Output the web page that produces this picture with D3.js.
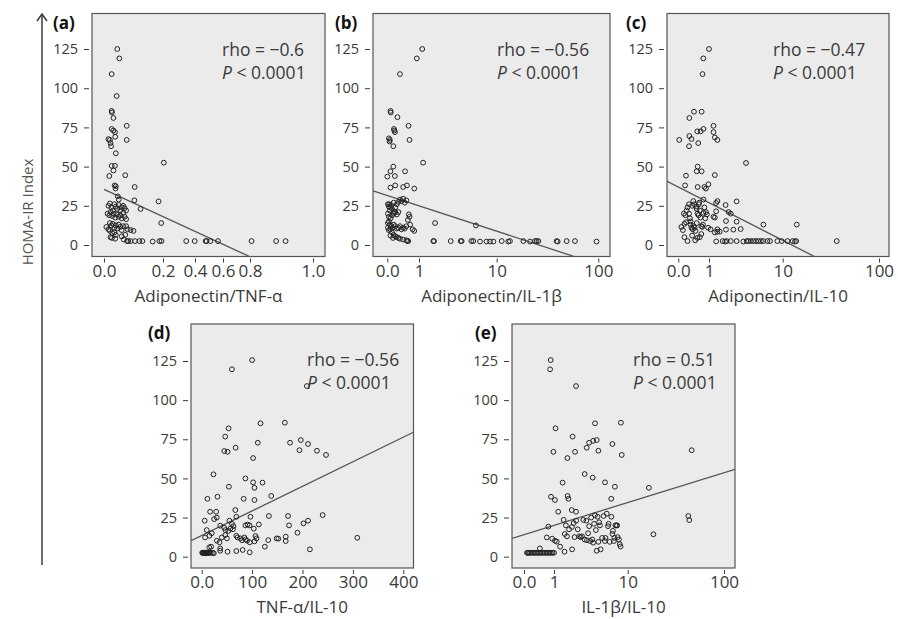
<!DOCTYPE html>
<html>
<head>
<meta charset="utf-8">
<script src="https://cdn.jsdelivr.net/npm/d3@7"></script>
<style>
  body { margin: 0; background: #fff; }
  svg { font-family: "Open Sans", "Noto Sans", sans-serif; }
</style>
</head>
<body>
<svg id="chart" width="898" height="619"></svg>
<script>
// y axis (HOMA-IR index) shared by every panel
const yTicks = [0, 25, 50, 75, 100, 125];

// x tick values for each panel
const ticksA = [0, 0.2, 0.4, 0.6, 0.8, 1.0];
const ticksLog = [0, 1, 10, 100];
const ticksD = [0, 100, 200, 300, 400];

const panelLetters = ["(a)", "(b)", "(c)", "(d)", "(e)"];
const xTitles = ["Adiponectin/TNF-α", "Adiponectin/IL-1β", "Adiponectin/IL-10", "TNF-α/IL-10", "IL-1β/IL-10"];
const rhoValues = ["−0.6", "−0.56", "−0.47", "−0.56", "0.51"];
const pValues = ["< 0.0001", "< 0.0001", "< 0.0001", "< 0.0001", "< 0.0001"];

// (a) adiponectin/TNF-a vs HOMA-IR
const dataA = [
  [0.045,125],[0.052,119],[0.026,109],[0.043,95],[0.026,85.5],[0.027,84.5],[0.032,81],[0.077,76],[0.026,74],[0.032,73],
  [0.037,72],[0.038,69],[0.015,67.5],[0.02,67],[0.022,65],[0.024,63],[0.077,67],[0.04,58.5],[0.026,50.5],[0.037,50.5],
  [0.032,47.5],[0.018,44],[0.072,44.5],[0.205,52.5],[0.036,38],[0.04,37.5],[0.039,36],[0.104,37],[0.047,31],[0.05,29],
  [0.103,28.5],[0.185,27.8],[0.124,23],[0.194,14],
  [0.015,25],[0.02,26.5],[0.025,24],[0.03,22],[0.035,26],[0.04,24.5],[0.045,23],[0.05,25.5],[0.055,22],[0.06,24],
  [0.065,25],[0.07,23.5],[0.075,22],[0.012,20],[0.018,19],[0.022,21],[0.028,18.5],[0.033,20],[0.038,17.5],[0.044,19.5],
  [0.05,18],[0.055,19],[0.06,17],[0.065,20.5],[0.07,18],[0.075,16.5],[0.02,14],[0.025,12.5],[0.03,13.5],[0.035,11],
  [0.04,12.5],[0.045,10.5],[0.05,13],[0.055,11.5],[0.06,9.5],[0.065,12],[0.075,12],[0.08,10],[0.09,9.5],[0.1,9],
  [0.008,11.5],[0.015,10],[0.02,9],[0.028,7.5],[0.035,8],[0.04,6.5],[0.022,5],[0.027,4.5],[0.038,4],[0.06,5.5],
  [0.067,3.5],[0.072,6.5],
  [0.078,2.5],[0.082,2.5],[0.09,2.5],[0.105,2.5],[0.12,2.5],[0.13,2.5],[0.165,2.2],[0.188,2.5],[0.195,2.5],[0.345,2.5],
  [0.398,2.5],[0.476,2.5],[0.483,2.5],[0.51,2.5],[0.564,2.5],[0.805,2.5],[0.883,2.5],[0.913,2.5]
];

// (b) adiponectin/IL-1b vs HOMA-IR
const dataB = [
  [1.1,125],[0.93,119],[0.4,109],[0.1,85.5],[0.11,84.5],[0.32,81.5],[0.67,76],[0.21,74],[0.22,73],[0.24,72],
  [0.05,68],[0.08,67],[0.07,66],[0.7,67],[0.19,63],[1.13,52.5],[0.19,50],[0.1,47],[0.24,44],[0.0,43.6],
  [0.56,47],[0.1,36.6],[0.25,38],[0.5,37],[0.62,38],[0.85,36],[1.61,14],[5.4,12.5],
  [0.02,26],[0.05,24.5],[0.08,22],[0.12,25.5],[0.15,23],[0.2,21],[0.25,24],[0.3,26],[0.35,27.5],[0.4,29],
  [0.45,28],[0.5,29.5],[0.55,27],[0.6,28.5],[0.68,19.5],[0.7,18],[0.65,16],[0.72,13],[0.8,10],[0.85,9],
  [0.02,20],[0.05,18],[0.1,17],[0.15,19],[0.2,20],[0.25,21],[0.3,19.5],[0.35,21],[0.05,15],[0.08,13],
  [0.12,12],[0.16,11],[0.2,13],[0.25,12],[0.3,10.5],[0.35,11],[0.4,12],[0.45,10],[0.5,11],[0.55,10.5],
  [0.6,12],[0.02,11],[0.05,9.5],[0.1,10],[0.15,8],[0.2,6.5],[0.25,5.5],[0.3,5],[0.35,4.5],[0.18,4.5],
  [0.4,4],[0.5,3.5],[0.6,3],[0.1,6],[0.02,14],[0.06,26],[0.1,24],[0.2,27],
  [0.63,2.5],[0.66,2.5],[1.53,2.5],[1.56,2.5],[2.56,2.5],[3.44,2.5],[3.54,2.5],[4.72,2.5],[5.0,2.5],[6.1,2.2],
  [7.4,2.2],[8.2,2.2],[9.06,2.2],[11.2,2.5],[13.0,2.2],[13.5,2.5],[18.3,2.5],[21.3,2.2],[23.8,2.5],[24.7,2.5],
  [25.7,2.5],[38.9,2.5],[39.8,2.2],[48.8,2.5],[58.9,2.5],[96,2.2]
];

// (c) adiponectin/IL-10 vs HOMA-IR
const dataC = [
  [1.0,125],[0.815,119],[0.79,109],[0.51,85],[0.76,85],[0.36,81],[1.15,76],[0.62,72.5],[0.73,72.5],[0.82,74],
  [1.15,72],[0.36,69.5],[0.43,67.6],[0.03,67],[1.2,68.6],[1.3,67],[0.65,65],[0.35,63],[3.18,52.3],[0.63,50],
  [0.76,47],[0.6,47],[0.25,44.2],[1.2,44.6],[0.22,38],[0.63,37],[0.85,37],[0.9,36],[0.98,38.7],[0.82,29],
  [0.49,28],[0.67,26],[1.3,28],[1.25,26.8],[1.68,25.5],[2.37,27.8],[1.85,21],[1.97,20],[1.7,15.3],[2.37,14.9],
  [1.7,9.8],[2.14,9.8],[2.69,10.2],[5.47,13],[14,13],[1.2,8],[1.3,8.5],[1.25,2.3],
  [0.1,11.5],[0.15,9.5],[0.2,13.5],[0.23,19],[0.27,22],[0.3,24],[0.35,20],[0.38,17],[0.4,13],[0.43,11],
  [0.47,10],[0.5,12],[0.53,11],[0.56,9],[0.6,14],[0.63,20],[0.66,19],[0.7,22],[0.72,17.5],[0.75,12],
  [0.78,11.5],[0.8,13],[0.82,20.5],[0.85,24],[0.88,17],[0.9,21],[0.93,19.5],[0.97,11],[1.05,10],[1.15,18],
  [1.2,17.5],[1.25,21.5],[1.3,10],[1.4,8.5],[0.2,5],[0.3,2.5],[0.45,6],[0.55,3],[0.62,4.5],[0.7,5],
  [0.75,7],[0.4,15],[0.52,26],[0.58,24.5],[0.35,26],[0.25,14.5],[0.18,20],[0.6,23],[0.68,27],[0.45,25],
  [1.53,2.5],[1.65,2.2],[1.74,2.5],[1.97,2.5],[2.37,2.5],[2.92,2.2],[3.25,2.5],[3.42,2.5],[3.68,2.5],[4.0,2.5],
  [4.34,2.5],[4.67,2.5],[5.08,2.5],[5.47,2.5],[6.19,2.5],[6.73,2.5],[8.46,2.5],[9.7,2.5],[11.2,2.5],[12.7,2.5],
  [13.4,2.2],[13.8,2.5],[36.4,2.5]
];

// (d) TNF-a/IL-10 vs HOMA-IR
const dataD = [
  [100,125.6],[60,119.7],[208.7,109],[165,85.6],[116.7,85.2],[53.3,82],[46.7,76.7],[196.7,74.5],[211,72],[175.3,72.8],
  [111.3,72.8],[67.3,69.6],[194,68],[44.7,67.5],[51.3,67],[228.7,67.7],[246.7,65],[102,63],[23.3,52.6],[86.7,50],
  [102,47.5],[104.7,44],[120.7,47.3],[54,44.7],[11.3,37],[31.3,38.3],[83.3,37],[104.7,36.2],[138,38.8],[240,26.6],
  [16.7,28.7],[28.7,28.7],[30,25],[24.7,24],[66.7,29.8],[68.7,25.5],[96.7,25.5],[133.3,26],[171.3,26],[6,23],
  [55,23],[60,21],[57,18],[47,17],[53,16.5],[62,17.5],[63,19.5],[36.7,19.8],[44.7,18.5],[86.7,20],
  [91,20.5],[95,20],[103.3,17.9],[113.3,20.6],[173.3,20],[202,21.3],[211,23],[190,15.3],[148.7,11.7],[152,11.5],
  [166.7,12.8],[166.7,10],[132,10.6],[308.7,12.1],[125.3,6.4],[214.7,4.7],[6.7,12.3],[15.3,13.4],[10,17],[20,15],
  [30,10.2],[35.3,9.2],[40,12.3],[46.7,13.8],[50,11.7],[68.7,13.4],[71,12.3],[76.7,11.7],[80,10.5],[84.7,12.3],
  [86.7,11],[90,10.2],[95.3,9.2],[106.7,13.2],[108.7,11.7],[104.7,9.8],[18.7,6.4],[36.7,5.3],[51.3,3.2],[68.7,3.6],
  [81.3,4.3],[95.3,2.8],[36.7,3.8],[15,6],
  [1,2.5],[2,2.5],[3,2.5],[4,2.5],[5,2.5],[6,2.5],[7,2.5],[8,2.5],[9,2.5],[10,2.5],
  [11,2.5],[12,2.5],[14,2.5],[16,2.5],[18,2.5],[22,2.5],[24,2.2]
];

// (e) IL-1b/IL-10 vs HOMA-IR
const dataE = [
  [0.89,125.6],[0.87,119.7],[1.99,109],[3.6,85.2],[8.1,85.6],[1.05,82],[1.79,76.7],[3.0,72.8],[2.78,69.6],[3.4,74],
  [3.8,74.5],[6.2,72],[0.98,67],[1.93,67],[4.0,67.7],[8.3,65],[1.52,63],[46.2,68],[2.61,52.8],[3.35,50.5],
  [1.31,47.3],[4.92,47.5],[6.7,44.7],[16.6,44],[0.9,38.3],[1.03,36.2],[1.53,38.8],[1.57,37],[5.98,37],[42.6,26],
  [43.6,23.4],[18.5,14.3],[1.14,28.7],[1.74,29.8],[1.99,28.7],[0.81,19.2],[0.76,12.3],[0.94,11.5],[1.03,10.2],[1.09,9.6],
  [1.21,6.4],[1.39,3.2],[1.76,4.7],[3.8,3.8],[4.3,4.7],[0.53,5.3],
  [1.35,23.5],[1.45,20],[1.6,17.5],[1.75,19],[1.85,21.5],[2.0,23],[2.1,17.5],[2.2,13],[2.4,13],[2.6,11],
  [2.75,23],[2.9,15],[3.0,19.5],[3.2,25],[3.3,11],[3.5,21],[3.6,26.5],[3.7,17],[3.9,25.5],[4.2,20],
  [4.5,12],[4.7,26],[4.9,10],[5.2,27.5],[5.5,21],[5.7,9.5],[6.0,25.5],[6.3,16.5],[6.6,12],[6.8,20],
  [7.0,20],[7.3,12.5],[7.6,11],[7.8,8],[8.0,6.5],[7.2,20],[6.5,10],[5.0,12],[4.0,9.5],[3.4,9],
  [3.1,10],[2.8,10.5],[2.3,12.5],[1.9,12.5],[1.4,14.5],[1.5,13],[2.5,23.5],[4.1,22],[5.4,19.5],[6.2,14.5],
  [0.1,2.5],[0.13,2.5],[0.16,2.5],[0.2,2.5],[0.25,2.5],[0.3,2.5],[0.35,2.5],[0.4,2.5],[0.45,2.5],[0.5,2.5],
  [0.55,2.5],[0.6,2.5],[0.65,2.5],[0.7,2.5],[0.75,2.5],[0.8,2.5],[0.85,2.5],[0.9,2.5],[0.95,2.5],[1.0,2.5]
];

// regression line end points [x, y]
const fitA = [[0, 35.5], [0.8, -7.5]];
const fitB = [[-0.45, 34.6], [58.9, -7.5]];
const fitC = [[-0.38, 40.8], [21.6, -7.5]];
const fitD = [[-21, 10.2], [420, 79.5]];
const fitE = [[-0.4, 11.7], [130, 55.8]];

// 0..1 linear, then one step per decade (the axes read 0.0, 1, 10, 100)
const logish = v => v <= 1 ? v : 1 + Math.log10(v);
const fmtLog = d => d === 0 ? "0.0" : String(d);

// layout: frame [left, right, top, bottom], tick pixel positions, text anchors
const rows = [
  { yRange: [245, 49], top: 13.5, bottom: 256.5 },
  { yRange: [556.7, 361], top: 324, bottom: 568 }
];

const panels = [
  { data: dataA, fit: fitA, row: 0, left: 92, right: 325, letterX: 53, statX: 222,
    xs: d3.scaleLinear().domain(ticksA).range([104, 163, 195, 223, 250, 313]),
    tx: v => v, ticks: ticksA, fmt: d3.format(".1f") },
  { data: dataB, fit: fitB, row: 0, left: 373, right: 610, letterX: 335, statX: 497,
    xs: d3.scaleLinear().domain(ticksLog.map(logish)).range([387.3, 419, 496.7, 598.3]),
    tx: logish, ticks: ticksLog, fmt: fmtLog },
  { data: dataC, fit: fitC, row: 0, left: 667, right: 889, letterX: 626, statX: 773,
    xs: d3.scaleLinear().domain(ticksLog.map(logish)).range([678.3, 709, 782.7, 879]),
    tx: logish, ticks: ticksLog, fmt: fmtLog },
  { data: dataD, fit: fitD, row: 1, left: 191, right: 413.5, letterX: 148, statX: 307,
    xs: d3.scaleLinear().domain([0, 400]).range([201.7, 403.3]),
    tx: v => v, ticks: ticksD, fmt: d => d === 0 ? "0.0" : String(d) },
  { data: dataE, fit: fitE, row: 1, left: 512, right: 735, letterX: 475, statX: 633,
    xs: d3.scaleLinear().domain(ticksLog.map(logish)).range([524, 554, 627.7, 724]),
    tx: logish, ticks: ticksLog, fmt: fmtLog }
];

const svg = d3.select("#chart");
const ink = "#3a3a3a";

panels.forEach((p, i) => {
  const row = rows[p.row];
  const y = d3.scaleLinear().domain([0, 125]).range(row.yRange);
  const x = v => p.xs(p.tx(v));
  const g = svg.append("g");

  g.append("clipPath").attr("id", "clip" + i)
    .append("rect")
    .attr("x", p.left).attr("y", row.top)
    .attr("width", p.right - p.left).attr("height", row.bottom - row.top);

  g.append("rect")
    .attr("x", p.left).attr("y", row.top)
    .attr("width", p.right - p.left).attr("height", row.bottom - row.top)
    .attr("fill", "#ebebeb")
    .attr("stroke", "#555")
    .attr("stroke-width", 1.2);

  // y axis
  const yAxis = g.append("g")
    .attr("transform", `translate(${p.left - 3},0)`)
    .call(d3.axisLeft(y).tickValues(yTicks).tickSize(5).tickPadding(6));
  yAxis.select(".domain").remove();
  yAxis.selectAll("line").attr("stroke", ink);
  yAxis.selectAll("text").attr("font-size", 14.5).attr("fill", ink)
    .attr("font-family", "'Open Sans', sans-serif");

  // x axis
  const xAxis = g.append("g")
    .attr("transform", `translate(0,${row.bottom + 2})`)
    .call(d3.axisBottom(p.xs).tickValues(p.ticks.map(p.tx)).tickSize(4).tickPadding(2)
      .tickFormat((d, k) => p.fmt(p.ticks[k])));
  xAxis.select(".domain").remove();
  xAxis.selectAll("line").attr("stroke", ink);
  xAxis.selectAll("text").attr("font-size", 17).attr("fill", ink)
    .attr("font-family", "'Open Sans', sans-serif");

  g.append("text")
    .attr("x", (p.left + p.right) / 2)
    .attr("y", row.bottom + 45)
    .attr("text-anchor", "middle")
    .attr("font-size", 17).attr("fill", ink)
    .text(xTitles[i]);

  // regression line
  g.append("path")
    .attr("clip-path", `url(#clip${i})`)
    .attr("d", d3.line().x(d => x(d[0])).y(d => y(d[1]))(p.fit))
    .attr("fill", "none")
    .attr("stroke", "#555")
    .attr("stroke-width", 1.3);

  // points
  g.append("g").selectAll("circle")
    .data(p.data)
    .join("circle")
    .attr("cx", d => x(d[0]))
    .attr("cy", d => y(d[1]))
    .attr("r", 2.4)
    .attr("fill", "none")
    .attr("stroke", "#222")
    .attr("stroke-width", 1);

  // panel letter
  g.append("text")
    .attr("x", p.letterX)
    .attr("y", row.top + 15)
    .attr("font-size", 17).attr("font-weight", 700).attr("fill", "#111")
    .text(panelLetters[i]);

  // stats
  g.append("text")
    .attr("x", p.statX).attr("y", row.top + 42)
    .attr("font-size", 17.5).attr("fill", ink)
    .text("rho = " + rhoValues[i]);
  const pt = g.append("text")
    .attr("x", p.statX).attr("y", row.top + 65)
    .attr("font-size", 17.5).attr("fill", ink);
  pt.append("tspan").attr("font-style", "italic").text("P");
  pt.append("tspan").text(" " + pValues[i]);
});

// shared y title with arrow
svg.append("line")
  .attr("x1", 42).attr("x2", 42).attr("y1", 565).attr("y2", 14)
  .attr("stroke", ink).attr("stroke-width", 1.5);
svg.append("path")
  .attr("d", "M37,21 L42,14 L47,21")
  .attr("fill", "none").attr("stroke", ink).attr("stroke-width", 1.5);
svg.append("text")
  .attr("transform", "translate(33,212) rotate(-90)")
  .attr("text-anchor", "middle")
  .attr("font-size", 15).attr("fill", "#555")
  .text("HOMA-IR Index");
</script>
</body>
</html>
